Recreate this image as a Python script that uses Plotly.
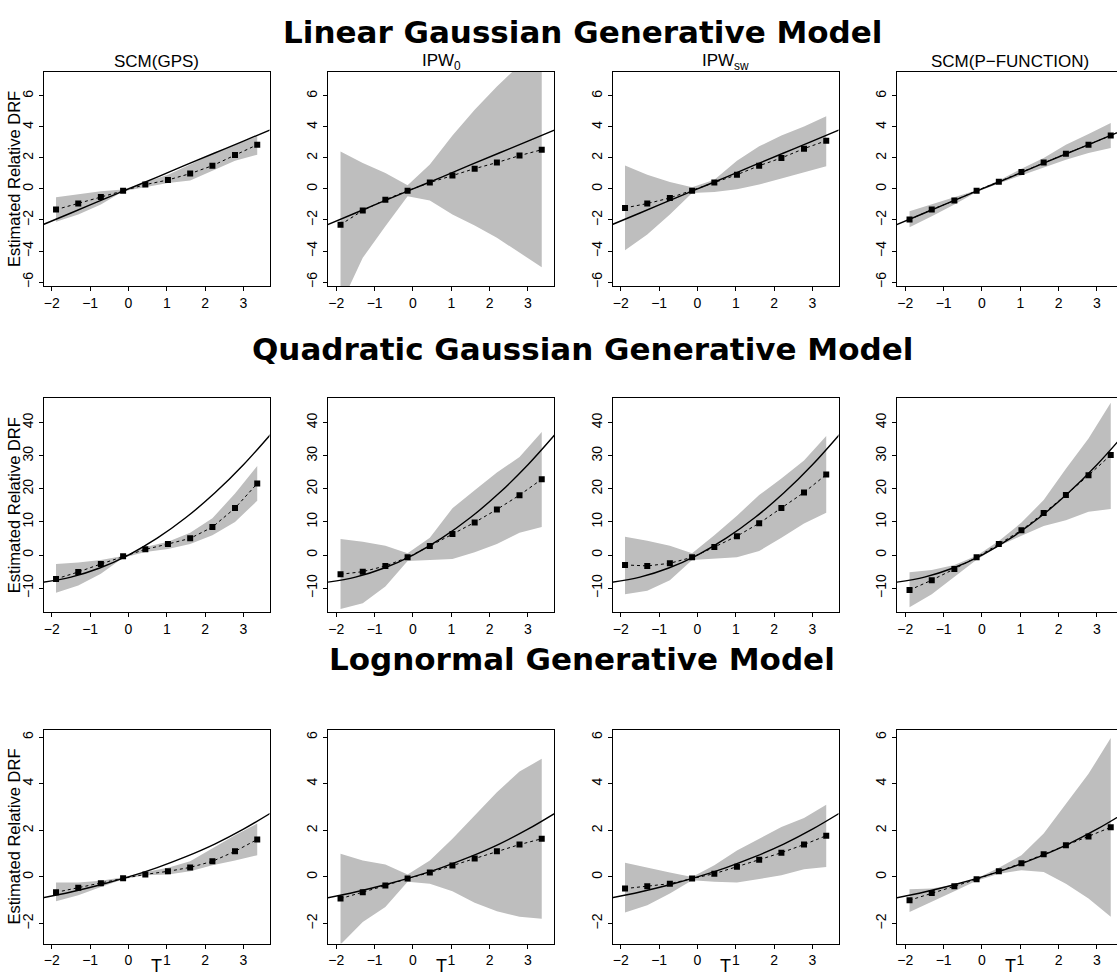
import plotly.graph_objects as go

# ---------------- data ----------------
T_pts = [-1.89, -1.31, -0.72, -0.14, 0.44, 1.03, 1.61, 2.19, 2.78, 3.36]
T_true = [-2.3, -1.5, -0.75, 0.0, 0.75, 1.5, 2.25, 3.0, 3.8]

row_titles = ["Linear Gaussian Generative Model",
              "Quadratic Gaussian Generative Model",
              "Lognormal Generative Model"]
col_titles = ["SCM(GPS)", "IPW<sub>0</sub>", "IPW<sub>sw</sub>", "SCM(P\u2212FUNCTION)"]

# true relative DRF (read at T_true)
true_linear = [-2.37, -1.55, -0.77, 0.0, 0.77, 1.55, 2.32, 3.09, 3.91]
true_quad = [-8.35, -6.68, -3.92, 0.0, 5.08, 11.32, 18.71, 27.27, 37.67]
true_logn = [-0.92, -0.645, -0.346, 0.0, 0.403, 0.87, 1.41, 2.05, 2.83]

# Linear Gaussian
lin_scm_mean = [-1.33, -0.94, -0.52, -0.11, 0.28, 0.58, 0.99, 1.50, 2.19, 2.85]
lin_scm_up = [-0.54, -0.36, -0.15, -0.04, 0.45, 0.92, 1.57, 2.25, 2.85, 3.40]
lin_scm_lo = [-2.12, -1.65, -1.00, -0.15, 0.13, 0.39, 0.54, 1.18, 1.82, 2.21]

lin_ipw0_mean = [-2.30, -1.39, -0.69, -0.11, 0.41, 0.86, 1.31, 1.70, 2.15, 2.53]
lin_ipw0_up = [2.42, 1.67, 1.03, 0.24, 1.57, 3.45, 5.10, 6.60, 8.00, 9.20]
lin_ipw0_lo = [-7.50, -4.44, -2.40, -0.47, -0.75, -1.65, -2.36, -3.15, -4.12, -5.04]

lin_ipwsw_mean = [-1.22, -0.94, -0.58, -0.11, 0.41, 0.92, 1.50, 2.00, 2.60, 3.11]
lin_ipwsw_up = [1.52, 0.92, 0.45, 0.11, 0.60, 1.82, 2.75, 3.45, 4.03, 4.68]
lin_ipwsw_lo = [-3.95, -2.94, -1.65, -0.26, -0.19, -0.02, 0.28, 0.67, 1.09, 1.46]

lin_pf_mean = [-1.97, -1.33, -0.75, -0.11, 0.47, 1.09, 1.70, 2.27, 2.85, 3.45]
lin_pf_up = [-1.44, -1.00, -0.58, -0.09, 0.54, 1.31, 2.00, 2.85, 3.54, 4.25]
lin_pf_lo = [-2.47, -1.76, -1.00, -0.19, 0.36, 0.86, 1.39, 1.89, 2.32, 2.64]

# Quadratic Gaussian
quad_scm_mean = [-7.24, -5.13, -2.71, -0.40, 1.71, 3.32, 5.03, 8.44, 14.17, 21.6]
quad_scm_up = [-2.7, -2.3, -1.5, -0.3, 2.4, 4.0, 6.7, 11.1, 18.6, 26.9]
quad_scm_lo = [-11.4, -9.25, -5.7, -0.8, 0.9, 1.8, 3.3, 6.0, 10.0, 16.4]

quad_ipw0_mean = [-5.83, -5.03, -3.32, -0.70, 2.71, 6.33, 9.85, 13.77, 18.09, 22.9]
quad_ipw0_up = [4.8, 4.0, 2.8, 0.5, 5.2, 14.1, 19.6, 24.9, 29.6, 37.2]
quad_ipw0_lo = [-16.3, -14.6, -9.5, -1.8, -1.5, -1.2, 0.8, 3.3, 6.7, 8.5]

quad_ipwsw_mean = [-3.0, -3.3, -2.5, -0.7, 2.4, 5.7, 9.6, 14.2, 18.9, 24.3]
quad_ipwsw_up = [5.5, 4.3, 2.8, 0.5, 6.0, 11.9, 18.1, 23.1, 28.6, 36.0]
quad_ipwsw_lo = [-11.9, -10.8, -7.6, -1.5, -1.2, -0.7, 1.2, 5.2, 9.5, 12.8]

quad_pf_mean = [-10.6, -7.6, -4.2, -0.7, 3.3, 7.5, 12.7, 18.1, 24.1, 30.2]
quad_pf_up = [-5.2, -4.5, -3.0, -0.2, 4.2, 9.8, 16.6, 26.1, 35.2, 46.0]
quad_pf_lo = [-15.8, -11.9, -6.6, -1.4, 2.7, 5.8, 8.8, 10.5, 13.1, 13.9]

# Lognormal
logn_scm_mean = [-0.66, -0.46, -0.27, -0.06, 0.11, 0.24, 0.41, 0.67, 1.10, 1.61]
logn_scm_up = [-0.24, -0.24, -0.16, -0.01, 0.21, 0.39, 0.67, 1.21, 1.79, 2.29]
logn_scm_lo = [-1.04, -0.79, -0.43, -0.10, 0.07, 0.11, 0.24, 0.50, 0.71, 0.93]

logn_ipw0_mean = [-0.93, -0.66, -0.37, -0.07, 0.19, 0.49, 0.79, 1.10, 1.39, 1.64]
logn_ipw0_up = [1.00, 0.71, 0.53, 0.10, 0.71, 1.64, 2.64, 3.64, 4.53, 5.07]
logn_ipw0_lo = [-2.90, -1.93, -1.29, -0.21, -0.29, -0.61, -1.11, -1.47, -1.71, -1.79]

logn_ipwsw_mean = [-0.50, -0.40, -0.29, -0.07, 0.14, 0.44, 0.74, 1.04, 1.39, 1.77]
logn_ipwsw_up = [0.61, 0.39, 0.19, 0.00, 0.50, 1.14, 1.64, 2.14, 2.53, 3.10]
logn_ipwsw_lo = [-1.53, -1.21, -0.71, -0.14, -0.21, -0.24, -0.10, 0.07, 0.33, 0.43]

logn_pf_mean = [-1.00, -0.69, -0.40, -0.10, 0.24, 0.59, 0.97, 1.36, 1.74, 2.13]
logn_pf_up = [-0.53, -0.50, -0.33, -0.07, 0.39, 0.93, 1.86, 3.14, 4.43, 5.96]
logn_pf_lo = [-1.50, -1.07, -0.61, -0.16, 0.14, 0.29, 0.21, -0.29, -0.93, -1.71]

rows = [
    (true_linear, [(lin_scm_mean, lin_scm_up, lin_scm_lo), (lin_ipw0_mean, lin_ipw0_up, lin_ipw0_lo),
                   (lin_ipwsw_mean, lin_ipwsw_up, lin_ipwsw_lo), (lin_pf_mean, lin_pf_up, lin_pf_lo)]),
    (true_quad, [(quad_scm_mean, quad_scm_up, quad_scm_lo), (quad_ipw0_mean, quad_ipw0_up, quad_ipw0_lo),
                 (quad_ipwsw_mean, quad_ipwsw_up, quad_ipwsw_lo), (quad_pf_mean, quad_pf_up, quad_pf_lo)]),
    (true_logn, [(logn_scm_mean, logn_scm_up, logn_scm_lo), (logn_ipw0_mean, logn_ipw0_up, logn_ipw0_lo),
                 (logn_ipwsw_mean, logn_ipwsw_up, logn_ipwsw_lo), (logn_pf_mean, logn_pf_up, logn_pf_lo)]),
]

y_ranges = [[-6.25, 7.55], [-17.3, 47.4], [-2.86, 6.33]]
y_ticks = [[-6, -4, -2, 0, 2, 4, 6], [-10, 0, 10, 20, 30, 40], [-2, 0, 2, 4, 6]]
x_ticks = [-2, -1, 0, 1, 2, 3]

# ---------------- layout (pixels) ----------------
W, H = 1117, 977
x_lo, x_hi = -2.217, 3.68
panel_w = 226
col_left = [43.5, 328, 612.5, 897]
row_top = [72, 399, 731]
panel_h = 214.5

FONT = "Liberation Sans, Arial, Helvetica, sans-serif"
TFONT = "DejaVu Sans, Liberation Sans, sans-serif"
GRAY = "#BEBEBE"

fig = go.Figure()
layout = dict(width=W, height=H, margin=dict(l=0, r=0, t=0, b=0),
              paper_bgcolor="white", plot_bgcolor="white", showlegend=False,
              font=dict(family=FONT, color="black"))
annotations = []

k = 0
for r, (true_vals, panels) in enumerate(rows):
    for c, (mean, up, lo) in enumerate(panels):
        k += 1
        xa = "x" if k == 1 else f"x{k}"
        ya = "y" if k == 1 else f"y{k}"
        left = col_left[c]
        right = min(left + panel_w, W)
        xr_hi = x_lo + (right - left) / panel_w * (x_hi - x_lo)
        top = row_top[r]
        bot = top + panel_h
        # band
        fig.add_trace(go.Scatter(x=T_pts + T_pts[::-1], y=up + lo[::-1], mode="lines",
                                 fill="toself", fillcolor=GRAY, line=dict(width=0, color=GRAY),
                                 hoverinfo="skip", xaxis=xa, yaxis=ya))
        # true curve
        fig.add_trace(go.Scatter(x=T_true, y=true_vals, mode="lines",
                                 line=dict(color="black", width=1.4, shape="spline", smoothing=1.0),
                                 xaxis=xa, yaxis=ya))
        # estimated
        fig.add_trace(go.Scatter(x=T_pts, y=mean, mode="lines+markers",
                                 line=dict(color="black", width=1, dash="dot"),
                                 marker=dict(symbol="square", size=6, color="black"),
                                 xaxis=xa, yaxis=ya))
        axkey = "xaxis" if k == 1 else f"xaxis{k}"
        aykey = "yaxis" if k == 1 else f"yaxis{k}"
        layout[axkey] = dict(domain=[left / W, right / W], range=[x_lo, xr_hi], anchor=ya,
                             tickvals=x_ticks, ticktext=[str(v).replace("-", "\u2212") for v in x_ticks],
                             showline=True, mirror=True, linecolor="black", linewidth=1,
                             ticks="outside", ticklen=4, tickcolor="black", tickwidth=1,
                             showgrid=False, zeroline=False,
                             tickfont=dict(family=FONT, size=14, color="black"))
        layout[aykey] = dict(domain=[1 - bot / H, 1 - top / H], range=y_ranges[r], anchor=xa,
                             tickvals=y_ticks[r], ticktext=[str(v).replace("-", "\u2212") for v in y_ticks[r]],
                             tickangle=-90,
                             showline=True, mirror=(c < 3), linecolor="black", linewidth=1,
                             ticks="outside", ticklen=4, tickcolor="black", tickwidth=1,
                             showgrid=False, zeroline=False,
                             tickfont=dict(family=FONT, size=14, color="black"))
        if r == 0:
            annotations.append(dict(text=col_titles[c], x=(left + panel_w / 2) / W, y=1 - (top - 10) / H,
                                    xref="paper", yref="paper", xanchor="center", yanchor="middle",
                                    showarrow=False, font=dict(family=FONT, size=17, color="black")))
        if r == 2:
            annotations.append(dict(text="T", x=(left + panel_w / 2) / W, y=1 - 968 / H,
                                    xref="paper", yref="paper", xanchor="center", yanchor="middle",
                                    showarrow=False, font=dict(family=FONT, size=18, color="black")))
        if c == 0:
            annotations.append(dict(text="Estimated Relative DRF", x=14 / W, y=1 - (top + bot) / 2 / H,
                                    xref="paper", yref="paper", xanchor="center", yanchor="middle",
                                    textangle=-90, showarrow=False,
                                    font=dict(family=FONT, size=16.5, color="black")))

title_y = [32, 350, 660]
for r in range(3):
    annotations.append(dict(text="<b>" + row_titles[r] + "</b>", x=582 / W, y=1 - title_y[r] / H,
                            xref="paper", yref="paper", xanchor="center", yanchor="middle",
                            showarrow=False, font=dict(family=TFONT, size=31, color="black")))

layout["annotations"] = annotations
fig.update_layout(**layout)
fig.write_html("out.html")
